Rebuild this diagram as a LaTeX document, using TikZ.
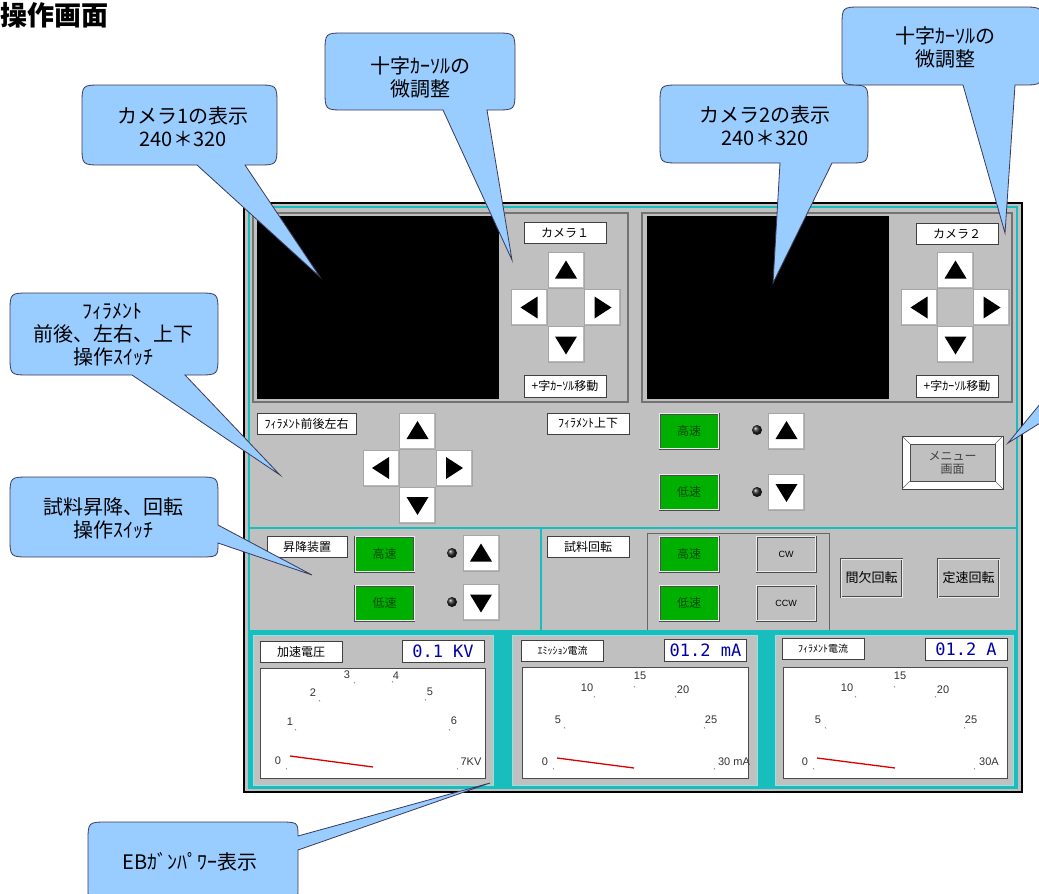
\documentclass[tikz,border=0pt]{standalone}
\usepackage{fontspec}
\setmainfont{Noto Sans CJK JP}
\newfontfamily\numfont{Liberation Sans}
\newfontfamily\lcdfont{DejaVu Sans Mono}
\definecolor{uigray}{HTML}{C0C0C0}
\definecolor{uicyan}{HTML}{18BDBD}
\definecolor{uigreen}{HTML}{00B000}
\definecolor{bubblue}{HTML}{99CCFF}
\definecolor{bubedge}{HTML}{3A3A5A}
\definecolor{lcdblue}{HTML}{0000A8}
\newcommand{\padedge}{\draw[gray!55, line width=2.5pt] (path picture bounding box.south west) -- (path picture bounding box.south east) -- (path picture bounding box.north east);}
\begin{document}
\begin{tikzpicture}[x=1pt, y=-1pt,
    bubble/.style={fill=bubblue, draw=bubedge, line width=0.8pt},
    bubtext/.style={align=center, inner sep=0pt, font=\fontsize{20}{23}\selectfont},
    lbl/.style={draw=black!75, fill=white, inner sep=0pt, minimum width=82pt, minimum height=21pt, font=\fontsize{12}{12}\selectfont},
    valbox/.style={draw=black!75, fill=white, inner sep=0pt, minimum width=82pt, minimum height=22pt, text=lcdblue, font=\lcdfont\fontsize{17}{17}\selectfont},
    padbtn/.style={draw=gray!70, fill=white, inner sep=0pt, minimum width=36pt, minimum height=36pt},
    btnup/.style={padbtn, path picture={\padedge \fill[black] ([shift={(-11,8)}]path picture bounding box.center) -- ++(22,0) -- ++(-11,-18) -- cycle;}},
    btndown/.style={padbtn, path picture={\padedge \fill[black] ([shift={(-11,-8)}]path picture bounding box.center) -- ++(22,0) -- ++(-11,18) -- cycle;}},
    btnleft/.style={padbtn, path picture={\padedge \fill[black] ([shift={(8,-11)}]path picture bounding box.center) -- ++(0,22) -- ++(-17,-11) -- cycle;}},
    btnright/.style={padbtn, path picture={\padedge \fill[black] ([shift={(-8,-11)}]path picture bounding box.center) -- ++(0,22) -- ++(17,-11) -- cycle;}},
    spdbtn/.style={draw=black!70, double=white!85!gray, double distance=0.8pt, line width=0.6pt, fill=uigreen, text=green!30!black, inner sep=0pt, minimum width=59pt, minimum height=35pt, font=\fontsize{12}{12}\selectfont},
    gbtn/.style={spdbtn, fill=uigray, text=black},
    led/.style={circle, inner sep=0pt, minimum size=10pt, ball color=black!85},
    sunken/.style={draw=black!55, line width=1.2pt},
    cyanline/.style={draw=uicyan, line width=2.5pt},
    meterbox/.style={fill=uigray, draw=white!55!uicyan, line width=1pt},
    dial/.style={draw=black!70, fill=white},
    dialnum/.style={inner sep=0pt, text=black!80, font=\numfont\fontsize{11}{11}\selectfont},
    dialtick/.style={draw=black!50, line width=0.6pt},
    needle/.style={draw=red!85!black, line width=1.3pt},
]
    \useasboundingbox (0,0) rectangle (1039,894);
    \fill[white] (0,0) rectangle (1039,894);
    %% Title
    \node[anchor=west, inner sep=0pt, font=\bfseries\fontsize{27}{27}\selectfont] (title) at (0,15) {操作画面};

    %% Panel frame
    \draw[fill=uigray, line width=1.5pt] (244,203) rectangle (1022,792);
    \fill[uicyan] (249,630) rectangle (1017,788);
    \draw[cyanline] (249,207) rectangle (1017,788);
    \draw[cyanline] (249,528) -- (1017,528);
    \draw[cyanline] (541,528) -- (541,630);

    %% Camera 1
    \draw[sunken] (253,213) rectangle (628,402);
    \fill[black] (257,216) rectangle (499,399);
    \node[lbl] (cam1lbl) at (565,233) {カメラ１};
    \node[btnup] (cam1up) at (566,270.5) {};
    \node[btnleft] (cam1left) at (529.5,307.5) {};
    \node[btnright] (cam1right) at (602.5,307.5) {};
    \node[btndown] (cam1down) at (566,344.5) {};
    \node[lbl, minimum height=22pt] (cam1mv) at (565,386) {+字ｶｰｿﾙ移動};

    %% Camera 2
    \draw[sunken] (642,213) rectangle (1012,402);
    \fill[black] (647,216) rectangle (889,399);
    \node[lbl] (cam2lbl) at (957,234) {カメラ２};
    \node[btnup] (cam2up) at (955.5,270.5) {};
    \node[btnleft] (cam2left) at (919.5,307.5) {};
    \node[btnright] (cam2right) at (991.5,307.5) {};
    \node[btndown] (cam2down) at (955.5,344.5) {};
    \node[lbl, minimum height=22pt] (cam2mv) at (957,386) {+字ｶｰｿﾙ移動};

    %% Filament
    \node[lbl, minimum width=99pt] (fillbl) at (306.5,423.5) {ﾌｨﾗﾒﾝﾄ前後左右};
    \node[btnup] (filup) at (417.5,431) {};
    \node[btnleft] (filleft) at (381,468) {};
    \node[btnright] (filright) at (454,468) {};
    \node[btndown] (fildown) at (417.5,505) {};
    \node[lbl] (udlbl) at (588,423.5) {ﾌｨﾗﾒﾝﾄ上下};
    \node[spdbtn] (udhi) at (689,431) {高速};
    \node[led] (udhiled) at (757,430) {};
    \node[btnup] (udup) at (786.5,431) {};
    \node[spdbtn] (udlo) at (689,492) {低速};
    \node[led] (udloled) at (757,492) {};
    \node[btndown] (uddown) at (786.5,492) {};

    %% Menu
    \node[draw=black!75, fill=white, minimum width=101pt, minimum height=53pt] (menu) at (952.5,462.5) {};
    \draw[black!60] (menu.north west) -- ([shift={(8,8)}]menu.north west);
    \draw[black!60] (menu.north east) -- ([shift={(-8,8)}]menu.north east);
    \draw[black!60] (menu.south west) -- ([shift={(8,-8)}]menu.south west);
    \draw[black!60] (menu.south east) -- ([shift={(-8,-8)}]menu.south east);
    \draw[fill=uigray, draw=black!70] ([shift={(8,8)}]menu.north west) rectangle ([shift={(-8,-8)}]menu.south east);
    \node[align=center, inner sep=0pt, text=black!75, font=\fontsize{12}{13}\selectfont] (menutxt) at (menu) {メニュー\\画面};

    %% Sample lift
    \node[lbl, minimum width=80pt] (liftlbl) at (307,546.5) {昇降装置};
    \node[spdbtn] (lifthi) at (384.5,554) {高速};
    \node[led] (lifthiled) at (452,553) {};
    \node[btnup] (liftup) at (481,553.5) {};
    \node[spdbtn] (liftlo) at (384.5,603) {低速};
    \node[led] (liftloled) at (452,602) {};
    \node[btndown] (liftdown) at (481,602.5) {};

    %% Sample rotation
    \node[lbl] (rotlbl) at (588,546.5) {試料回転};
    \draw[black!60, line width=1pt] (647,630) -- (647,533) -- (829,533) -- (829,630);
    \node[spdbtn] (rothi) at (689,554) {高速};
    \node[spdbtn] (rotlo) at (689,603) {低速};
    \node[gbtn, font=\numfont\fontsize{9}{9}\selectfont] (rotcw) at (786,554) {CW};
    \node[gbtn, font=\numfont\fontsize{9}{9}\selectfont] (rotccw) at (786,603) {CCW};
    \node[gbtn, minimum width=61pt, minimum height=38pt, font=\fontsize{13}{13}\selectfont] (rotint) at (871.5,578) {間欠回転};
    \node[gbtn, minimum width=61pt, minimum height=38pt, font=\fontsize{13}{13}\selectfont] (rotconst) at (968.5,578) {定速回転};

    %% Meter 1
    \draw[meterbox] (253,635) rectangle (493,785);
    \node[lbl] (m1lbl) at (301,651.5) {加速電圧};
    \node[valbox] (m1val) at (443,651) {0.1 KV};
    \draw[dial] (260,668) rectangle (485,778);
    \foreach \t/\x/\y/\tx/\ty [count=\i] in {0/278/761/286/768, 1/290/722/295/729, 2/313/693/319/700, 3/347/675/354/682, 4/396/676/392/681, 5/430/692/425/699, 6/454/721/449/729, 7KV/471/762/457/768} {
        \node[dialnum] (m1n\i) at (\x,\y) {\t};
        \draw[dialtick] (\tx,\ty) -- ++(1,1.5);
    }
    \draw[needle] (290,756) -- (373,767);

    %% Meter 2
    \draw[meterbox] (512,635) rectangle (757,785);
    \node[lbl, font=\fontsize{10}{10}\selectfont] (m2lbl) at (562.5,650.5) {ｴﾐｯｼｮﾝ電流};
    \node[valbox] (m2val) at (705.5,650) {01.2 mA};
    \draw[dial] (522,667) rectangle (748,778);
    \foreach \t/\x/\y/\tx/\ty [count=\i] in {0/545/762/553/768, 5/558/720/564/727, 10/587/688/594/696, 15/640/676/634/686, 20/683/690/675/696, 25/711/720/704/727, 30 mA/734/762/714/768} {
        \node[dialnum] (m2n\i) at (\x,\y) {\t};
        \draw[dialtick] (\tx,\ty) -- ++(1,1.5);
    }
    \draw[needle] (557,758) -- (634,768);

    %% Meter 3
    \draw[meterbox] (775,635) rectangle (1013,785);
    \node[lbl, font=\fontsize{10}{10}\selectfont] (m3lbl) at (823,649) {ﾌｨﾗﾒﾝﾄ電流};
    \node[valbox] (m3val) at (966,649) {01.2 A};
    \draw[dial] (783,667) rectangle (1007,778);
    \foreach \t/\x/\y/\tx/\ty [count=\i] in {0/805/762/813/768, 5/818/720/825/727, 10/847/688/855/696, 15/900/676/894/686, 20/943/690/935/696, 25/971/720/964/727, 30A/989/762/974/768} {
        \node[dialnum] (m3n\i) at (\x,\y) {\t};
        \draw[dialtick] (\tx,\ty) -- ++(1,1.5);
    }
    \draw[needle] (817,758) -- (895,768);

    %% Callouts
    \draw[bubble] (102,85) -- (257,85) .. controls (277,85) .. (277,105) -- (277,145) .. controls (277,165) .. (257,165) -- (245,165) -- (320,277) -- (197,165) -- (102,165) .. controls (82,165) .. (82,145) -- (82,105) .. controls (82,85) .. (102,85) -- cycle;
    \node[bubtext] (bubcam1) at (183,127) {カメラ1の表示\\240＊320};
    \draw[bubble] (345,33) -- (495,33) .. controls (515,33) .. (515,53) -- (515,90) .. controls (515,110) .. (495,110) -- (487,110) -- (512,260) -- (443,110) -- (345,110) .. controls (325,110) .. (325,90) -- (325,53) .. controls (325,33) .. (345,33) -- cycle;
    \node[bubtext] (bubcur1) at (420,77) {十字ｶｰｿﾙの\\微調整};
    \draw[bubble] (680,85) -- (848,85) .. controls (868,85) .. (868,105) -- (868,143) .. controls (868,163) .. (848,163) -- (832,163) -- (773,283) -- (780,163) -- (680,163) .. controls (660,163) .. (660,143) -- (660,105) .. controls (660,85) .. (680,85) -- cycle;
    \node[bubtext] (bubcam2) at (765,126) {カメラ2の表示\\240＊320};
    \draw[bubble] (862,7) -- (1022,7) .. controls (1042,7) .. (1042,27) -- (1042,65) .. controls (1042,85) .. (1022,85) -- (1015,85) -- (1005,233) -- (963,85) -- (862,85) .. controls (842,85) .. (842,65) -- (842,27) .. controls (842,7) .. (862,7) -- cycle;
    \node[bubtext] (bubcur2) at (945,47) {十字ｶｰｿﾙの\\微調整};
    \draw[bubble] (30,293) -- (198,293) .. controls (218,293) .. (218,313) -- (218,355) .. controls (218,375) .. (198,375) -- (185,375) -- (280,475) -- (132,375) -- (30,375) .. controls (10,375) .. (10,355) -- (10,313) .. controls (10,293) .. (30,293) -- cycle;
    \node[bubtext] (bubfil) at (113,335) {ﾌｨﾗﾒﾝﾄ\\前後、左右、上下\\操作ｽｲｯﾁ};
    \draw[bubble] (30,477) -- (198,477) .. controls (218,477) .. (218,497) -- (218,525) -- (312,575) -- (218,543) .. controls (218,557) .. (198,557) -- (30,557) .. controls (10,557) .. (10,537) -- (10,497) .. controls (10,477) .. (30,477) -- cycle;
    \node[bubtext] (bubsmp) at (113,518) {試料昇降、回転\\操作ｽｲｯﾁ};
    \draw[bubble] (108,822) -- (278,822) .. controls (298,822) .. (298,836) -- (490,783) -- (298,850) -- (298,885) .. controls (298,905) .. (278,905) -- (108,905) .. controls (88,905) .. (88,885) -- (88,842) .. controls (88,822) .. (108,822) -- cycle;
    \node[bubtext] (bubeb) at (190,862) {EBｶﾞﾝﾊﾟﾜｰ表示};
    \draw[bubble] (1045,398) -- (1008,443) -- (1045,420);
\end{tikzpicture}
\end{document}
